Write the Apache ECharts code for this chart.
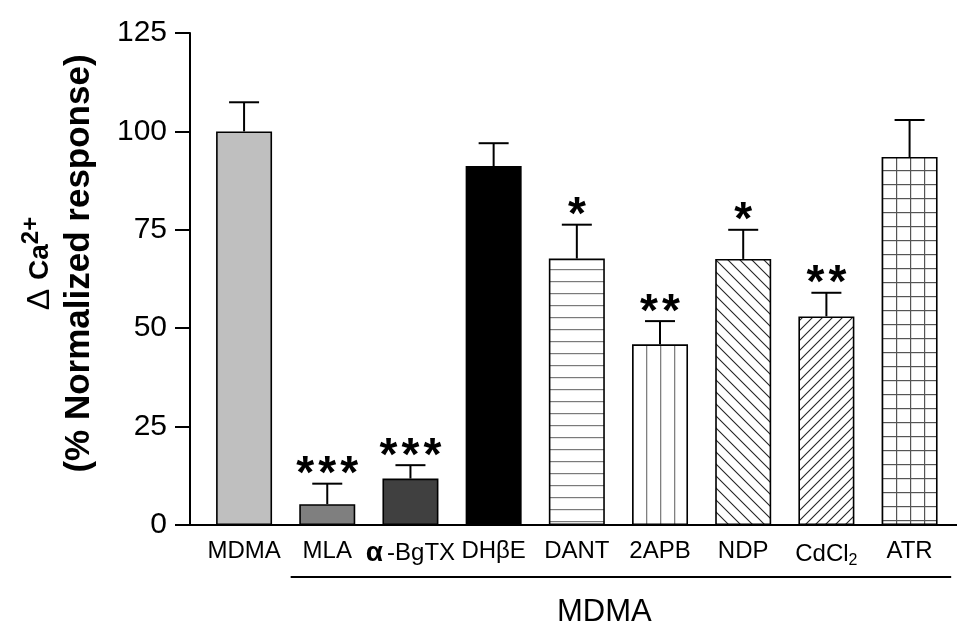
<!DOCTYPE html>
<html>
<head>
<meta charset="utf-8">
<script src="https://cdn.jsdelivr.net/npm/echarts@6/dist/echarts.min.js"></script>
<style>
html,body{margin:0;padding:0;background:#fff;}
#chart{width:957px;height:624px;}
</style>
</head>
<body>
<div id="chart"></div>
<script>
// ---- data ----
const categories = ['MDMA', 'MLA', 'α-BgTX', 'DHβE', 'DANT', '2APB', 'NDP', 'CdCl2', 'ATR'];
const means = [100, 5.3, 11.8, 91.2, 67.7, 45.9, 67.6, 53.0, 93.5];
const errors = [7.4, 5.2, 3.4, 5.8, 8.6, 5.9, 7.4, 6.0, 9.4];
const starCounts = [0, 3, 3, 0, 1, 2, 1, 2, 0];
const yTickValues = [0, 25, 50, 75, 100, 125];
const groupLabel = 'MDMA';

// ---- patterns ----
function makeCanvas(w, h, draw) {
  const c = document.createElement('canvas');
  c.width = w; c.height = h;
  const ctx = c.getContext('2d');
  ctx.fillStyle = '#fff';
  ctx.fillRect(0, 0, w, h);
  draw(ctx, w, h);
  return c;
}
const patHoriz = makeCanvas(12, 12, (ctx) => {
  ctx.fillStyle = '#7a7a7a'; ctx.fillRect(0, 5, 12, 1.2);
});
const patVert = makeCanvas(14, 4, (ctx) => {
  ctx.fillStyle = '#808080'; ctx.fillRect(2, 0, 1.3, 4);
});
const patBack = makeCanvas(12, 12, (ctx, w, h) => {
  ctx.strokeStyle = '#222'; ctx.lineWidth = 1.1;
  for (const o of [-w, 0, w]) {
    ctx.beginPath(); ctx.moveTo(o - 1, -1); ctx.lineTo(o + w + 1, h + 1); ctx.stroke();
  }
});
const patFwd = makeCanvas(10, 10, (ctx, w, h) => {
  ctx.strokeStyle = '#222'; ctx.lineWidth = 1.1;
  for (const o of [-w, 0, w]) {
    ctx.beginPath(); ctx.moveTo(o - 1, h + 1); ctx.lineTo(o + w + 1, -1); ctx.stroke();
  }
});
const patGrid = makeCanvas(14, 14, (ctx) => {
  ctx.fillStyle = '#555';
  ctx.fillRect(0, 0, 1.2, 14);
  ctx.fillRect(0, 2, 14, 1.2);
});
const fills = [
  '#bfbfbf', '#7f7f7f', '#404040', '#000000',
  {image: patHoriz, repeat: 'repeat'},
  {image: patVert, repeat: 'repeat'},
  {image: patBack, repeat: 'repeat'},
  {image: patFwd, repeat: 'repeat'},
  {image: patGrid, repeat: 'repeat'}
];

const FONT = '"Liberation Sans", Arial, sans-serif';
const labelRich = {
  'α-BgTX': '{al|α}{n|-BgTX}',
  'CdCl2': '{n|CdCl}{sub|2}'
};

const chart = echarts.init(document.getElementById('chart'), null, {renderer: 'canvas'});

function renderErr(params, api) {
  const i = api.value(0), m = api.value(1), e = api.value(2), n = api.value(3);
  const base = api.coord([i, m]);
  const top = api.coord([i, m + e]);
  const children = [
    {type: 'line', shape: {x1: base[0], y1: base[1], x2: top[0], y2: top[1]}, style: {stroke: '#000', lineWidth: 2}},
    {type: 'line', shape: {x1: top[0] - 15, y1: top[1], x2: top[0] + 15, y2: top[1]}, style: {stroke: '#000', lineWidth: 2}}
  ];
  for (let k = 0; k < n; k++) {
    children.push({
      type: 'text',
      x: top[0] + (k - (n - 1) / 2) * 22,
      y: top[1] - 8,
      style: {text: '*', fontSize: 46, fontWeight: 'bold', fontFamily: FONT, fill: '#000', align: 'center', verticalAlign: 'middle'}
    });
  }
  return {type: 'group', children};
}

const option = {
  backgroundColor: '#fff',
  animation: false,
  grid: {left: 190, right: 0, top: 33, bottom: 99},
  xAxis: {
    type: 'value',
    min: -0.65,
    max: 8.57,
    splitLine: {show: false},
    axisTick: {show: false},
    axisLine: {show: true, onZero: false, lineStyle: {color: '#000', width: 2}},
    axisLabel: {
      customValues: categories.map((c, i) => i),
      margin: 14,
      color: '#000',
      fontSize: 24,
      fontFamily: FONT,
      formatter: (v) => {
        const c = categories[Math.round(v)];
        return labelRich[c] || '{n|' + c + '}';
      },
      rich: {
        n: {fontSize: 24, fontFamily: FONT, color: '#000'},
        al: {fontSize: 28, fontWeight: 'bold', fontFamily: FONT, color: '#000', padding: [0, 4, 0, 0]},
        sub: {fontSize: 16, fontFamily: FONT, color: '#000', padding: [14, 0, 0, 0]}
      }
    }
  },
  yAxis: {
    type: 'value',
    min: yTickValues[0],
    max: yTickValues[yTickValues.length - 1],
    interval: 25,
    splitLine: {show: false},
    axisLine: {show: true, onZero: false, lineStyle: {color: '#000', width: 2}},
    axisTick: {show: true, length: 15, lineStyle: {color: '#000', width: 2}},
    axisLabel: {color: '#000', fontSize: 30, fontFamily: FONT, margin: 23},
    name: '{dl|Δ }{d|Ca}{sup|2+}\n{b|(% Normalized response)}',
    nameLocation: 'middle',
    nameRotate: 90,
    nameGap: 93,
    nameTextStyle: {
      color: '#000',
      fontFamily: FONT,
      padding: [0, 0, 0, 31],
      rich: {
        dl: {fontSize: 32, fontFamily: FONT, color: '#000', lineHeight: 36},
        d: {fontSize: 28, fontWeight: 'bold', fontFamily: FONT, color: '#000', lineHeight: 36},
        sup: {fontSize: 24, fontWeight: 'bold', fontFamily: FONT, color: '#000', padding: [0, 0, 18, 0]},
        b: {fontSize: 35, fontWeight: 'bold', fontFamily: FONT, color: '#000', lineHeight: 36}
      }
    }
  },
  series: [
    {
      type: 'bar',
      barWidth: 56,
      data: means.map((v, i) => ({value: [i, v], itemStyle: {color: fills[i]}})),
      itemStyle: {borderColor: '#000', borderWidth: 1.6},
      z: 2
    },
    {
      type: 'custom',
      renderItem: renderErr,
      data: means.map((v, i) => [i, v, errors[i], starCounts[i]]),
      encode: {x: 0, y: 1},
      z: 3
    }
  ]
};
chart.setOption(option);

// group bracket under treated bars
const xl = chart.convertToPixel({xAxisIndex: 0}, 0.56);
const xr = chart.convertToPixel({xAxisIndex: 0}, 8.5);
const xc = chart.convertToPixel({xAxisIndex: 0}, 4.33);
const y0 = chart.convertToPixel({yAxisIndex: 0}, 0);
chart.setOption({
  graphic: [
    {type: 'line', shape: {x1: xl, y1: y0 + 52, x2: xr, y2: y0 + 52}, style: {stroke: '#000', lineWidth: 2}},
    {type: 'text', x: xc, y: y0 + 87, style: {text: groupLabel, fontSize: 31, fontFamily: FONT, fill: '#000', align: 'center', verticalAlign: 'middle'}}
  ]
});
</script>
</body>
</html>
